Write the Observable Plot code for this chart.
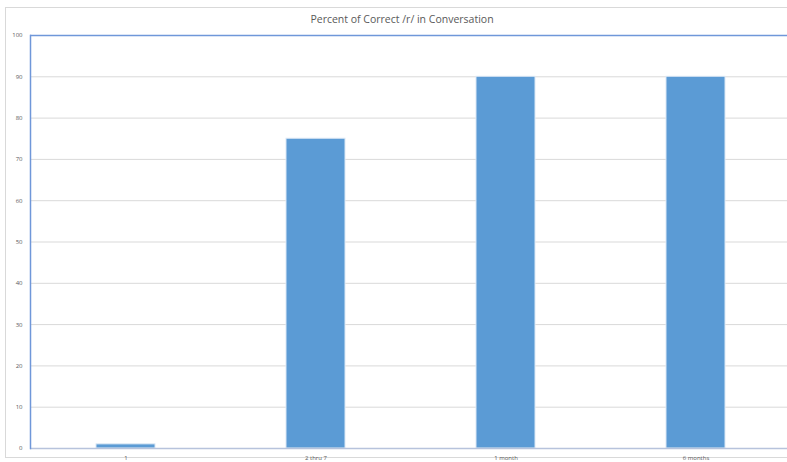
<!DOCTYPE html>
<html>
<head>
<meta charset="utf-8">
<script src="https://cdn.jsdelivr.net/npm/d3@7"></script>
<script src="https://cdn.jsdelivr.net/npm/@observablehq/plot@0.6"></script>
<style>
  html, body { margin: 0; padding: 0; background: #fff; }
  #wrap { position: relative; width: 787px; height: 462px; overflow: hidden; }
  #frame { position: absolute; left: 5px; top: 7px; width: 800px; height: 451px; border: 1px solid #d9d9d9; box-sizing: border-box; }
  #chart { position: absolute; left: 0; top: 0; }
</style>
</head>
<body>
<div id="wrap"><div id="frame"></div><div id="chart"></div></div>
<script>
const title = "Percent of Correct /r/ in Conversation";
const categories = ["1", "2 thru 7", "1 month", "6 months"];
const values = [1, 75, 90, 90];
const yTicks = [0, 10, 20, 30, 40, 50, 60, 70, 80, 90, 100];

const data = categories.map((c, i) => ({category: c, value: values[i]}));

const plot = Plot.plot({
  width: 787,
  height: 462,
  marginLeft: 30,
  marginRight: 0,
  marginTop: 35,
  marginBottom: 14,
  style: {background: "transparent", fontFamily: "Open Sans, sans-serif", overflow: "visible"},
  x: {domain: categories, range: [30, 790], paddingInner: 0.69, paddingOuter: 0.345, label: null},
  y: {domain: [0, 100], label: null},
  marks: [
    Plot.ruleY(yTicks.filter(t => t > 0 && t < 100), {stroke: "#d9d9d9", strokeWidth: 1}),
    Plot.barY(data, {x: "category", y: "value", fill: "#5b9bd5", stroke: "#dbe8f5", strokeWidth: 1}),
    Plot.ruleY([0], {stroke: "#b7c3dc", strokeWidth: 1.5}),
    Plot.ruleY([100], {stroke: "#6f97d9", strokeWidth: 1.5}),
    Plot.frame({anchor: "left", stroke: "#6f97d9", strokeWidth: 1.5}),
    Plot.axisY(yTicks, {tickSize: 0, tickPadding: 8, fontSize: 6, fill: "#595959", label: null}),
    Plot.axisX({tickSize: 0, tickPadding: 7, fontSize: 6, fill: "#595959", label: null}),
    Plot.text([title], {frameAnchor: "top", dy: -16, dx: -7, text: d => d, fontSize: 10.5, fill: "#595959", lineAnchor: "middle"})
  ]
});
document.getElementById("chart").appendChild(plot);
</script>
</body>
</html>
